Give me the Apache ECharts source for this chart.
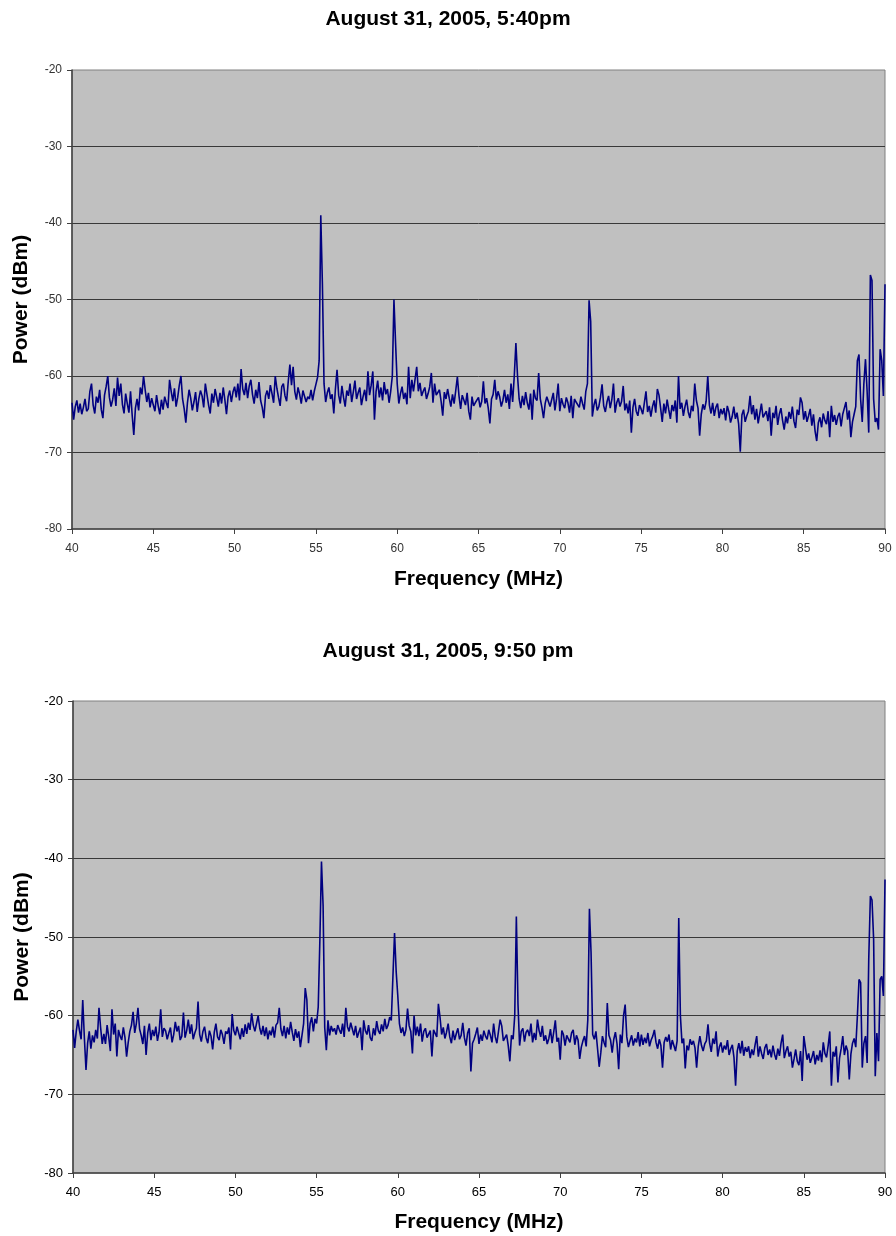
<!DOCTYPE html>
<html>
<head>
<meta charset="utf-8">
<script src="https://cdn.jsdelivr.net/npm/echarts@6/dist/echarts.min.js"></script>
<style>
html,body{margin:0;padding:0;background:#fff;}
#chart{width:896px;height:1236px;}
</style>
</head>
<body>
<div id="chart"></div>
<script>
// Titles and axis labels
const titles = ["August 31, 2005, 5:40pm", "August 31, 2005, 9:50 pm"];
const xAxisTitle = "Frequency (MHz)";
const yAxisTitle = "Power (dBm)";
const xTicks = [40, 45, 50, 55, 60, 65, 70, 75, 80, 85, 90];
const yTicks = [-80, -70, -60, -50, -40, -30, -20];

// Sweep: 40.0 MHz to 90.0 MHz in 0.1 MHz steps
const FREQ_START = 40;
const FREQ_STEP = 0.1;

// Power (dBm), 5:40pm sweep, one row per MHz
const power540 = [
-63.5,-65.7,-64.0,-63.2,-64.8,-63.6,-65.0,-64.1,-63.0,-64.6,
-64.3,-62.0,-61.0,-63.8,-64.9,-62.7,-63.5,-61.8,-64.4,-65.5,
-62.5,-61.4,-60.0,-62.8,-64.0,-63.1,-61.6,-63.9,-60.2,-62.6,
-61.0,-63.7,-64.9,-62.3,-63.6,-64.8,-62.0,-65.1,-67.7,-64.2,
-63.0,-64.5,-61.5,-62.4,-60.0,-61.8,-63.4,-62.2,-64.1,-62.9,
-63.8,-64.6,-62.5,-63.9,-65.0,-63.1,-64.4,-62.7,-63.5,-64.2,
-60.5,-62.0,-63.3,-61.6,-64.0,-62.8,-61.2,-60.0,-63.0,-64.3,
-66.1,-63.5,-61.8,-62.9,-64.5,-63.4,-62.1,-64.7,-63.0,-61.9,
-62.6,-64.1,-61.0,-62.4,-63.8,-64.9,-62.3,-63.5,-61.7,-62.8,
-64.0,-62.2,-63.6,-61.5,-63.1,-65.0,-62.7,-61.9,-63.4,-62.1,
-61.4,-62.8,-61.0,-63.2,-59.1,-61.7,-62.5,-60.9,-62.9,-61.3,
-60.5,-62.4,-63.6,-61.8,-62.9,-60.8,-63.2,-64.1,-65.5,-62.6,
-61.9,-63.0,-61.2,-62.3,-63.5,-60.0,-61.6,-62.8,-63.9,-61.4,
-61.0,-62.6,-63.3,-60.7,-58.5,-61.2,-58.8,-62.0,-63.1,-61.5,
-62.4,-63.6,-61.9,-62.0,-63.4,-62.7,-63.0,-61.8,-63.2,-62.0,
-61.1,-60.2,-58.0,-39.0,-48.0,-61.0,-63.4,-62.2,-61.5,-63.0,
-62.4,-64.9,-61.7,-59.2,-62.5,-63.6,-61.3,-62.8,-64.0,-61.9,
-62.6,-61.0,-63.4,-62.1,-60.6,-63.0,-62.2,-61.5,-63.8,-62.7,
-61.8,-63.3,-59.4,-62.5,-61.2,-59.4,-65.7,-62.0,-60.6,-62.8,
-61.5,-63.2,-60.8,-62.4,-61.7,-63.5,-62.0,-60.0,-50.0,-55.7,
-61.0,-63.6,-62.3,-61.4,-63.0,-62.2,-63.7,-58.8,-62.9,-60.5,
-62.0,-61.9,-58.8,-62.0,-60.9,-62.6,-62.0,-61.5,-63.0,-62.3,
-61.4,-59.6,-63.5,-61.0,-62.5,-62.4,-61.8,-63.3,-65.2,-62.1,
-63.0,-61.7,-62.9,-64.0,-62.4,-63.6,-61.9,-60.1,-62.6,-64.3,
-62.5,-62.5,-63.8,-62.2,-64.6,-65.7,-62.7,-63.9,-63.5,-63.4,
-62.8,-64.1,-63.3,-60.7,-63.6,-62.9,-64.2,-66.2,-63.0,-62.4,
-60.5,-63.1,-62.0,-62.7,-64.0,-63.2,-61.8,-63.5,-62.4,-64.3,
-61.0,-63.4,-60.0,-55.7,-60.0,-63.0,-64.2,-62.6,-63.8,-62.1,
-63.5,-64.4,-62.3,-65.7,-61.8,-62.9,-63.2,-59.6,-63.0,-64.1,
-65.5,-63.6,-62.7,-62.5,-64.0,-63.1,-62.2,-64.5,-63.0,-61.0,
-64.6,-62.9,-63.7,-64.2,-62.8,-63.5,-64.8,-62.6,-65.5,-63.0,
-63.4,-63.2,-64.1,-62.7,-63.6,-64.4,-62.0,-61.0,-50.1,-52.9,
-65.3,-63.8,-63.0,-64.5,-64.0,-62.8,-61.1,-63.9,-64.7,-63.4,
-62.6,-64.2,-63.1,-61.0,-64.8,-63.5,-62.9,-64.0,-63.3,-61.3,
-64.5,-63.6,-64.9,-63.2,-67.4,-64.1,-63.0,-64.6,-65.2,-63.8,
-64.3,-65.0,-63.5,-62.0,-64.7,-63.9,-65.3,-64.0,-63.2,-64.8,
-61.7,-62.5,-64.2,-66.0,-63.6,-64.9,-63.1,-64.4,-65.6,-63.8,
-64.6,-63.2,-66.1,-60.0,-64.3,-63.5,-65.2,-64.0,-63.1,-64.7,
-65.5,-63.9,-64.6,-61.0,-63.2,-64.2,-67.8,-65.0,-63.7,-64.4,
-63.3,-60.0,-63.8,-64.9,-63.5,-65.2,-64.1,-63.6,-65.5,-64.3,
-65.0,-64.2,-65.8,-63.9,-64.7,-66.1,-65.3,-64.0,-65.6,-64.8,
-66.3,-69.9,-65.1,-64.4,-66.0,-65.2,-64.6,-62.6,-65.0,-63.8,
-65.7,-64.3,-66.2,-64.9,-63.6,-65.4,-65.0,-64.6,-65.9,-64.1,
-67.8,-64.8,-65.5,-63.9,-66.4,-65.0,-64.2,-65.8,-67.0,-65.3,
-66.2,-64.7,-65.6,-64.0,-65.9,-66.8,-64.4,-65.1,-62.8,-63.5,
-65.7,-64.6,-66.0,-65.2,-64.3,-66.5,-65.0,-67.2,-68.5,-66.1,
-65.4,-66.7,-64.9,-65.8,-66.3,-64.6,-68.0,-63.9,-66.0,-65.1,
-66.4,-65.3,-64.8,-66.6,-65.0,-64.2,-63.4,-65.7,-64.5,-68.0,
-66.0,-65.0,-64.0,-58.0,-57.2,-63.0,-66.0,-61.0,-57.8,-62.0,
-67.4,-46.8,-47.5,-63.0,-66.0,-65.5,-67.0,-56.5,-58.0,-62.6,
-48.0
];

// Power (dBm), 9:50 pm sweep, one row per MHz
const power950 = [
-61.8,-64.1,-62.0,-60.5,-61.9,-63.0,-58.0,-62.8,-66.9,-63.5,
-62.0,-64.2,-62.5,-63.4,-61.8,-62.9,-59.0,-61.5,-63.6,-62.3,
-63.6,-61.2,-62.7,-64.5,-59.2,-62.4,-61.0,-65.2,-61.8,-62.6,
-63.1,-61.5,-62.8,-65.2,-63.4,-62.0,-61.2,-59.5,-62.2,-61.0,
-59.0,-61.7,-62.5,-63.6,-61.3,-65.0,-62.2,-61.0,-63.1,-61.8,
-62.6,-61.4,-63.2,-62.1,-59.2,-62.7,-61.6,-61.9,-63.0,-62.2,
-61.5,-63.4,-62.4,-60.8,-62.0,-61.3,-63.1,-62.6,-59.6,-62.8,
-61.9,-60.5,-62.3,-61.1,-63.0,-62.2,-61.6,-58.2,-62.4,-63.3,
-62.0,-61.4,-62.8,-63.5,-61.9,-62.6,-64.3,-62.1,-61.0,-62.7,
-63.1,-61.8,-62.4,-63.6,-62.0,-62.3,-61.5,-64.3,-59.8,-61.9,
-62.5,-61.4,-62.2,-63.0,-61.6,-62.7,-61.1,-62.3,-60.9,-61.8,
-59.7,-61.2,-62.0,-61.0,-60.0,-61.6,-62.4,-61.3,-62.6,-61.5,
-63.0,-61.9,-62.5,-61.4,-62.8,-61.2,-60.9,-59.0,-61.7,-62.6,
-61.3,-62.9,-61.5,-62.4,-60.8,-62.1,-63.2,-61.7,-62.8,-62.0,
-64.0,-62.5,-61.0,-56.5,-58.0,-63.5,-61.0,-60.2,-62.0,-60.4,
-61.0,-58.9,-50.5,-40.4,-46.0,-61.5,-64.4,-60.6,-62.5,-61.3,
-62.0,-61.6,-62.4,-61.2,-61.8,-62.3,-61.0,-62.7,-59.0,-61.4,
-62.0,-60.9,-61.7,-62.5,-61.3,-62.8,-62.1,-61.5,-64.4,-60.6,
-61.9,-62.4,-61.2,-62.8,-63.2,-61.6,-62.5,-60.7,-61.9,-62.3,
-61.1,-62.0,-60.4,-61.7,-61.2,-60.2,-60.6,-55.0,-49.5,-54.4,
-57.5,-61.0,-62.2,-61.5,-62.6,-61.8,-59.1,-61.3,-62.0,-64.8,
-60.0,-62.5,-61.4,-62.6,-61.0,-63.3,-62.0,-61.6,-62.8,-62.8,
-61.9,-65.2,-61.8,-62.0,-62.7,-58.5,-60.2,-62.4,-61.5,-62.9,
-62.1,-61.0,-62.7,-63.5,-61.9,-63.1,-62.3,-61.6,-63.0,-62.5,
-60.9,-62.8,-63.8,-62.2,-61.6,-67.1,-63.5,-63.0,-62.3,-61.5,
-63.6,-62.4,-63.2,-61.9,-62.6,-63.0,-61.8,-62.5,-63.4,-61.0,
-62.7,-63.5,-62.0,-60.5,-61.3,-63.2,-63.0,-62.4,-63.8,-65.8,
-62.5,-63.0,-60.0,-47.4,-58.5,-63.8,-62.0,-61.6,-63.3,-62.1,
-61.8,-62.6,-61.0,-63.4,-62.2,-63.1,-60.5,-61.9,-62.7,-61.3,
-63.2,-62.5,-63.6,-62.9,-61.7,-63.5,-62.1,-60.6,-63.3,-62.8,
-65.6,-61.9,-62.4,-63.8,-62.5,-62.7,-63.4,-62.2,-61.8,-63.7,
-62.5,-63.1,-65.5,-64.0,-63.2,-62.6,-63.9,-60.5,-46.4,-52.0,
-62.4,-63.0,-62.0,-64.2,-66.5,-64.7,-62.6,-63.4,-64.0,-58.4,
-62.5,-63.1,-64.7,-63.0,-62.1,-63.6,-66.8,-62.4,-63.5,-60.0,
-58.6,-62.7,-64.0,-63.2,-62.5,-63.8,-62.9,-63.4,-62.1,-63.9,
-62.4,-63.7,-62.8,-63.5,-62.2,-63.9,-63.1,-62.6,-61.8,-63.4,
-64.2,-63.0,-63.8,-66.6,-63.4,-62.7,-63.3,-62.4,-64.3,-63.1,
-63.8,-64.5,-63.2,-47.6,-60.0,-63.5,-62.9,-66.7,-63.8,-64.4,
-63.0,-63.7,-63.2,-64.1,-66.6,-63.9,-62.6,-63.8,-64.5,-63.6,
-63.2,-61.1,-63.5,-64.6,-62.9,-63.6,-62.0,-65.2,-64.0,-63.4,
-64.7,-63.8,-64.3,-63.1,-65.0,-64.2,-63.7,-65.3,-68.9,-64.5,
-63.5,-64.8,-63.2,-65.1,-64.0,-64.6,-63.9,-65.4,-64.3,-65.0,
-63.7,-62.6,-65.2,-63.9,-64.8,-65.5,-64.1,-63.6,-65.0,-64.3,
-65.3,-63.8,-64.9,-65.6,-64.2,-65.1,-63.5,-62.4,-65.4,-64.5,
-63.9,-65.2,-64.6,-66.6,-65.5,-64.3,-65.8,-66.3,-64.5,-68.3,
-62.6,-64.1,-65.6,-64.8,-66.0,-65.3,-64.5,-66.2,-65.0,-65.7,
-64.4,-65.9,-63.4,-64.8,-65.3,-63.8,-62.0,-68.9,-64.6,-65.2,
-63.9,-68.5,-65.4,-64.2,-62.6,-65.0,-63.8,-64.5,-68.1,-64.9,
-63.5,-62.9,-64.0,-60.0,-55.4,-55.8,-66.6,-63.5,-62.6,-66.0,
-52.7,-44.8,-45.3,-50.3,-67.7,-62.2,-65.8,-55.4,-55.0,-57.5,
-42.7
];

function toPairs(values) {
  return values.map((v, i) => [Math.round((FREQ_START + i * FREQ_STEP) * 10) / 10, v]);
}

const FONT = '"Liberation Sans", Arial, sans-serif';

function xAxisCfg(gridIndex, labelColor, labelSize, margin, nameGap) {
  return {
    gridIndex: gridIndex, type: 'value',
    min: xTicks[0], max: xTicks[xTicks.length - 1], interval: xTicks[1] - xTicks[0],
    name: xAxisTitle, nameLocation: 'middle', nameGap: nameGap,
    nameTextStyle: { fontFamily: FONT, fontWeight: 'bold', fontSize: 21, color: '#000' },
    axisLine: { show: true, onZero: false, lineStyle: { color: '#404040', width: 1.5 } },
    axisTick: { show: true, inside: false, length: 5, lineStyle: { color: '#404040', width: 1 } },
    axisLabel: { color: labelColor, fontFamily: FONT, fontSize: labelSize, margin: margin },
    splitLine: { show: false }
  };
}
function yAxisCfg(gridIndex, labelColor, labelSize, margin) {
  return {
    gridIndex: gridIndex, type: 'value',
    min: yTicks[0], max: yTicks[yTicks.length - 1], interval: yTicks[1] - yTicks[0],
    name: yAxisTitle, nameLocation: 'middle', nameGap: 40, nameRotate: 90,
    nameTextStyle: { fontFamily: FONT, fontWeight: 'bold', fontSize: 21, color: '#000' },
    axisLine: { show: true, onZero: false, lineStyle: { color: '#404040', width: 1.5 } },
    axisTick: { show: true, inside: false, length: 5, lineStyle: { color: '#404040', width: 1 } },
    axisLabel: { color: labelColor, fontFamily: FONT, fontSize: labelSize, margin: margin },
    splitLine: { show: true, showMinLine: false, showMaxLine: false, lineStyle: { color: '#383838', width: 1 } }
  };
}

const chart = echarts.init(document.getElementById('chart'), null, { renderer: 'canvas' });
chart.setOption({
  animation: false,
  backgroundColor: '#ffffff',
  title: [
    { text: titles[0], left: 'center', top: 4, textStyle: { fontFamily: FONT, fontWeight: 'bold', fontSize: 21, color: '#000' } },
    { text: titles[1], left: 'center', top: 636, textStyle: { fontFamily: FONT, fontWeight: 'bold', fontSize: 21, color: '#000' } }
  ],
  grid: [
    { left: 72, top: 70, width: 813, height: 459, show: true, backgroundColor: '#C0C0C0', borderColor: '#808080', borderWidth: 1 },
    { left: 73, top: 701, width: 812, height: 472, show: true, backgroundColor: '#C0C0C0', borderColor: '#808080', borderWidth: 1 }
  ],
  xAxis: [ xAxisCfg(0, '#333333', 12, 14, 40), xAxisCfg(1, '#000000', 13, 13, 39) ],
  yAxis: [ yAxisCfg(0, '#333333', 12, 10), yAxisCfg(1, '#000000', 13, 10) ],
  series: [
    { type: 'line', xAxisIndex: 0, yAxisIndex: 0, data: toPairs(power540), showSymbol: false, symbol: 'none',
      lineStyle: { color: '#000080', width: 1.6 }, itemStyle: { color: '#000080' } },
    { type: 'line', xAxisIndex: 1, yAxisIndex: 1, data: toPairs(power950), showSymbol: false, symbol: 'none',
      lineStyle: { color: '#000080', width: 1.6 }, itemStyle: { color: '#000080' } }
  ]
});
</script>
</body>
</html>
